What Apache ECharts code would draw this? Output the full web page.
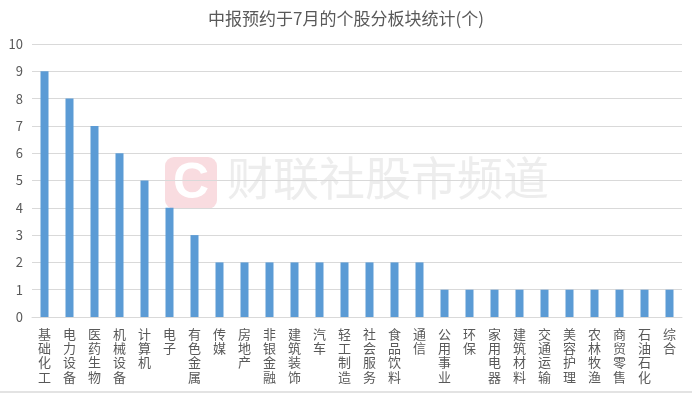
<!DOCTYPE html>
<html>
<head>
<meta charset="utf-8">
<style>html,body{margin:0;padding:0;background:#fff;}#c{width:692px;height:394px;}</style>
<script src="https://cdn.jsdelivr.net/npm/echarts@6/dist/echarts.min.js"></script>
</head>
<body>
<div id="c"></div>
<script>
const titleText = '中报预约于7月的个股分板块统计(个)';
const categories = ['基础化工','电力设备','医药生物','机械设备','计算机','电子','有色金属','传媒','房地产','非银金融','建筑装饰','汽车','轻工制造','社会服务','食品饮料','通信','公用事业','环保','家用电器','建筑材料','交通运输','美容护理','农林牧渔','商贸零售','石油石化','综合'];
const counts = [9,8,7,6,5,4,3,2,2,2,2,2,2,2,2,2,1,1,1,1,1,1,1,1,1,1];
const watermarkText = '财联社股市频道';

const FONT = '"Noto Sans CJK SC", "Microsoft YaHei", sans-serif';
const chart = echarts.init(document.getElementById('c'), null, {renderer: 'canvas'});
chart.setOption({
  animation: false,
  backgroundColor: '#fff',
  title: {
    text: titleText, left: 'center', top: 5,
    textStyle: {fontSize: 17, fontWeight: 'normal', color: '#595959', fontFamily: FONT}
  },
  grid: {left: 32, right: 10, top: 44, bottom: 77, containLabel: false},
  xAxis: {
    type: 'category', data: categories,
    axisLine: {show: true, lineStyle: {color: '#D9D9D9'}},
    axisTick: {show: false},
    axisLabel: {
      interval: 0, margin: 10, color: '#595959', fontSize: 13, lineHeight: 14.2,
      fontFamily: FONT, verticalAlign: 'top',
      formatter: v => v.split('').join('\n')
    }
  },
  yAxis: {
    type: 'value', min: 0, max: 10, interval: 1,
    axisLine: {show: false}, axisTick: {show: false},
    axisLabel: {color: '#595959', fontSize: 13, fontFamily: FONT, margin: 9},
    splitLine: {lineStyle: {color: '#D9D9D9', width: 1}}
  },
  graphic: [
    {type: 'rect', left: 165, top: 157, z: -1, shape: {width: 52, height: 52, r: 9}, style: {fill: '#F9DCE0'}},
    {type: 'text', x: 191, y: 184, z: -1, style: {text: 'C', fill: '#FFFFFF', align: 'center', verticalAlign: 'middle', font: 'bold 50px "Liberation Sans", sans-serif'}},
    {type: 'text', left: 227, top: 155, z: -1, style: {text: watermarkText, fill: 'rgba(200,200,200,0.32)', font: '46px ' + FONT}},
    {type: 'rect', left: 0, top: 391, z: 10, shape: {width: 692, height: 2}, style: {fill: '#E3E3E3'}}
  ],
  series: [{
    type: 'bar', data: counts, barWidth: 8, z: 5,
    itemStyle: {color: '#5B9BD5'}
  }]
});
</script>
</body>
</html>
